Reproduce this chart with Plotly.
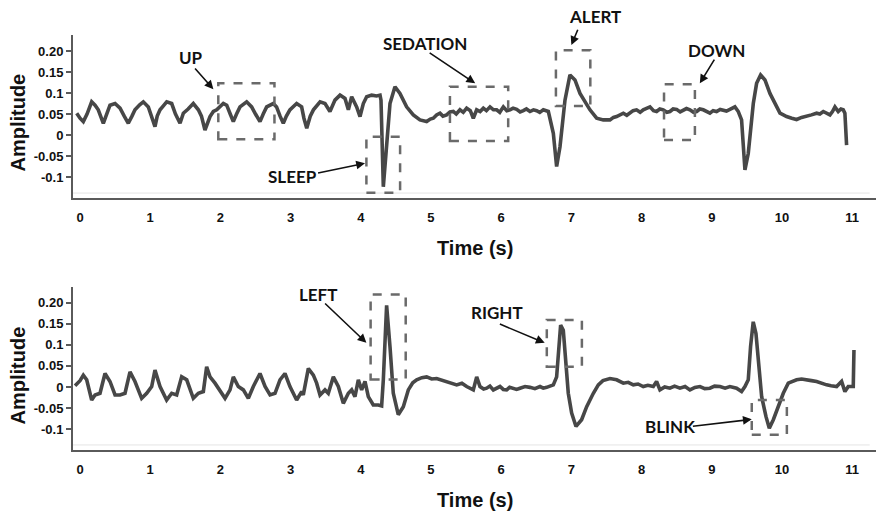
import plotly.graph_objects as go

# ---------------- data ----------------
t_top = [-0.047, 0.00, 0.047, 0.10, 0.166, 0.214, 0.26, 0.332, 0.38, 0.427, 0.499, 0.570, 0.63, 0.688,
         0.74, 0.783, 0.85, 0.902, 0.973, 1.02, 1.068, 1.10, 1.14, 1.19, 1.235, 1.306, 1.36, 1.425,
         1.472, 1.54, 1.614, 1.686, 1.73, 1.78, 1.852, 1.90, 1.947, 2.042, 2.09, 2.14, 2.184, 2.23,
         2.279, 2.374, 2.445, 2.50, 2.564, 2.61, 2.659, 2.754, 2.80, 2.85, 2.896, 2.94, 2.99, 3.086,
         3.157, 3.19, 3.23, 3.28, 3.325, 3.42, 3.49, 3.561, 3.632, 3.704, 3.775, 3.823, 3.87, 3.941,
         3.989, 4.036, 4.084, 4.155, 4.226, 4.274, 4.288, 4.321, 4.368, 4.416, 4.487, 4.558, 4.653,
         4.748, 4.843, 4.938, 4.99, 5.033, 5.08, 5.128, 5.17, 5.223, 5.27, 5.318, 5.36, 5.413, 5.46,
         5.508, 5.56, 5.603, 5.651, 5.70, 5.746, 5.79, 5.841, 5.89, 5.936, 5.98, 6.031, 6.08, 6.126,
         6.17, 6.221, 6.27, 6.316, 6.36, 6.41, 6.46, 6.505, 6.55, 6.6, 6.672, 6.743, 6.79, 6.838,
         6.909, 6.980, 7.051, 7.123, 7.194, 7.265, 7.36, 7.455, 7.55, 7.60, 7.645, 7.69, 7.74, 7.79,
         7.835, 7.88, 7.929, 7.98, 8.024, 8.07, 8.12, 8.17, 8.214, 8.26, 8.309, 8.36, 8.404, 8.45,
         8.5, 8.55, 8.594, 8.64, 8.689, 8.74, 8.784, 8.83, 8.879, 8.93, 8.974, 9.02, 9.069, 9.12,
         9.164, 9.21, 9.259, 9.33, 9.378, 9.425, 9.473, 9.52, 9.592, 9.639, 9.696, 9.758, 9.829,
         9.9, 9.972, 10.02, 10.066, 10.14, 10.209, 10.28, 10.351, 10.42, 10.494, 10.54, 10.589,
         10.64, 10.684, 10.72, 10.755, 10.802, 10.84, 10.873, 10.897, 10.921]
v_top = [0.052, 0.040, 0.032, 0.050, 0.079, 0.071, 0.060, 0.028, 0.050, 0.071, 0.075, 0.064, 0.045, 0.028,
         0.045, 0.060, 0.072, 0.079, 0.067, 0.040, 0.020, 0.045, 0.060, 0.070, 0.079, 0.075, 0.050, 0.028,
         0.052, 0.062, 0.075, 0.060, 0.045, 0.012, 0.044, 0.056, 0.060, 0.075, 0.071, 0.050, 0.032, 0.050,
         0.067, 0.079, 0.067, 0.050, 0.032, 0.050, 0.067, 0.075, 0.067, 0.045, 0.028, 0.045, 0.060, 0.075,
         0.067, 0.040, 0.016, 0.045, 0.060, 0.079, 0.075, 0.056, 0.083, 0.095, 0.087, 0.060, 0.091, 0.067,
         0.044, 0.075, 0.091, 0.095, 0.093, 0.095, 0.083, -0.123, -0.020, 0.075, 0.115, 0.099, 0.067,
         0.048, 0.036, 0.032, 0.038, 0.040, 0.048, 0.052, 0.045, 0.048, 0.055, 0.056, 0.050, 0.060, 0.054,
         0.064, 0.058, 0.040, 0.060, 0.056, 0.064, 0.058, 0.067, 0.060, 0.060, 0.054, 0.067, 0.058, 0.060,
         0.064, 0.061, 0.055, 0.058, 0.062, 0.056, 0.060, 0.058, 0.054, 0.060, 0.056, 0.004, -0.075, -0.028,
         0.083, 0.143, 0.131, 0.099, 0.079, 0.060, 0.040, 0.036, 0.036, 0.042, 0.044, 0.048, 0.052, 0.047,
         0.053, 0.058, 0.060, 0.054, 0.060, 0.064, 0.067, 0.058, 0.056, 0.062, 0.060, 0.054, 0.056, 0.062,
         0.061, 0.055, 0.058, 0.063, 0.060, 0.054, 0.056, 0.062, 0.060, 0.055, 0.052, 0.058, 0.056, 0.061,
         0.060, 0.057, 0.061, 0.067, 0.056, 0.036, -0.083, -0.044, 0.075, 0.123, 0.143, 0.131, 0.099,
         0.075, 0.052, 0.048, 0.044, 0.040, 0.037, 0.042, 0.044, 0.048, 0.052, 0.050, 0.056,
         0.052, 0.048, 0.056, 0.067, 0.056, 0.062, 0.060, 0.052, -0.024]

t_bot = [-0.071, 0.00, 0.047, 0.095, 0.166, 0.214, 0.285, 0.356, 0.427, 0.499, 0.570, 0.641, 0.712,
         0.783, 0.878, 0.95, 1.021, 1.068, 1.14, 1.234, 1.306, 1.377, 1.448, 1.52, 1.614, 1.686, 1.757,
         1.804, 1.852, 1.923, 2.066, 2.137, 2.184, 2.255, 2.327, 2.398, 2.469, 2.564, 2.636, 2.707,
         2.778, 2.849, 2.92, 2.991, 3.086, 3.158, 3.181, 3.253, 3.324, 3.371, 3.419, 3.49, 3.537, 3.609,
         3.68, 3.751, 3.823, 3.87, 3.917, 3.965, 4.012, 4.06, 4.107, 4.178, 4.249, 4.297, 4.321, 4.344,
         4.368, 4.416, 4.463, 4.534, 4.606, 4.677, 4.74, 4.796, 4.87, 4.938, 5.01, 5.081, 5.15, 5.223,
         5.29, 5.366, 5.44, 5.508, 5.603, 5.651, 5.698, 5.75, 5.793, 5.84, 5.888, 5.94, 5.983, 6.03,
         6.078, 6.12, 6.173, 6.22, 6.268, 6.34, 6.41, 6.48, 6.553, 6.60, 6.648, 6.743, 6.79, 6.814,
         6.847, 6.885, 6.923, 6.956, 7.004, 7.066, 7.146, 7.218, 7.313, 7.384, 7.45, 7.55, 7.645, 7.69,
         7.74, 7.81, 7.882, 7.95, 8.024, 8.09, 8.167, 8.214, 8.262, 8.33, 8.404, 8.47, 8.547, 8.62,
         8.689, 8.76, 8.832, 8.90, 8.974, 9.04, 9.117, 9.19, 9.259, 9.354, 9.425, 9.473, 9.52, 9.553,
         9.591, 9.63, 9.663, 9.711, 9.772, 9.82, 9.877, 9.948, 10.019, 10.09, 10.15, 10.209, 10.28,
         10.351, 10.42, 10.494, 10.56, 10.636, 10.70, 10.779, 10.85, 10.897, 10.945, 11.016, 11.026]
v_bot = [0.003, 0.015, 0.028, 0.017, -0.031, -0.019, -0.015, 0.032, 0.013, -0.019, -0.019, -0.015, 0.036,
         0.013, -0.027, -0.015, 0.001, 0.040, 0.001, -0.031, -0.015, -0.019, 0.024, 0.017, -0.027, -0.015,
         -0.011, 0.048, 0.024, 0.009, -0.027, -0.007, 0.024, 0.001, -0.007, -0.027, 0.001, 0.032, 0.001,
         -0.019, -0.015, 0.017, 0.032, 0.001, -0.031, -0.011, -0.019, 0.044, 0.028, 0.009, -0.019, -0.007,
         -0.015, 0.024, 0.001, -0.039, -0.015, -0.007, -0.023, 0.017, -0.007, 0.013, -0.023, -0.043,
         -0.043, -0.045, 0.017, 0.135, 0.194, 0.096, -0.015, -0.066, -0.047, -0.007, 0.010, 0.017, 0.022,
         0.024, 0.019, 0.020, 0.016, 0.013, 0.008, 0.005, 0.009, 0.001, -0.007, 0.024, 0.001, -0.005,
         -0.003, 0.002, -0.007, -0.002, 0.001, -0.006, -0.007, -0.001, -0.003, -0.006, -0.003, 0.001,
         -0.001, -0.004, 0.001, -0.003, -0.001, 0.005, 0.024, 0.080, 0.147, 0.135, 0.064, -0.015, -0.062,
         -0.094, -0.078, -0.047, -0.015, 0.005, 0.015, 0.020, 0.017, 0.014, 0.009, 0.011, 0.005, 0.007,
         0.001, 0.004, 0.001, 0.013, -0.007, 0.000, -0.003, 0.002, -0.003, 0.001, -0.007, -0.001, 0.001,
         -0.004, -0.003, 0.002, 0.001, -0.003, 0.001, -0.003, -0.011, 0.001, 0.017, 0.096, 0.155, 0.127,
         0.056, -0.023, -0.070, -0.098, -0.078, -0.047, -0.015, 0.009, 0.014, 0.017, 0.019, 0.018, 0.015,
         0.013, 0.009, 0.005, 0.003, 0.001, 0.013, -0.011, 0.001, 0.001, 0.088]

ytick_vals = [0.20, 0.15, 0.1, 0.05, 0, -0.05, -0.1]
ytick_text = ["0.20", "0.15", "0.1", "0.05", "0", "-0.05", "-0.1"]
xtick_vals = list(range(0, 12))

# annotation boxes: (panel, x0, x1, y0, y1)
boxes = [
    (1, 1.97, 2.77, -0.010, 0.123),   # UP
    (1, 4.08, 4.56, -0.137, -0.004),  # SLEEP
    (1, 5.27, 6.10, -0.014, 0.115),   # SEDATION
    (1, 6.78, 7.27, 0.069, 0.202),    # ALERT
    (1, 8.32, 8.76, -0.012, 0.121),   # DOWN
    (2, 4.14, 4.64, 0.018, 0.220),    # LEFT
    (2, 6.65, 7.15, 0.048, 0.159),    # RIGHT
    (2, 9.57, 10.07, -0.114, -0.031), # BLINK
]
# labels: (panel, text, x, y, tail_x, tail_y, head_x, head_y)
labels = [
    (1, "UP", 1.58, 0.185, 1.62, 0.162, 1.90, 0.109),
    (1, "SLEEP", 3.03, -0.099, 3.37, -0.091, 4.06, -0.067),
    (1, "SEDATION", 4.915, 0.218, 4.96, 0.198, 5.63, 0.123),
    (1, "ALERT", 7.336, 0.283, 7.10, 0.254, 7.00, 0.214),
    (1, "DOWN", 9.07, 0.202, 9.05, 0.183, 8.83, 0.123),
    (2, "LEFT", 3.39, 0.220, 3.47, 0.202, 4.08, 0.105),
    (2, "RIGHT", 5.94, 0.176, 5.96, 0.151, 6.62, 0.105),
    (2, "BLINK", 8.40, -0.094, 8.71, -0.094, 9.57, -0.077),
]

YR = [-0.15, 0.238]
DOM = {1: [0.607, 1.0], 2: [0.0, 0.393]}

LINE = "#474747"
AX = "#5a5a5a"

fig = go.Figure()
fig.add_trace(go.Scatter(x=t_top, y=v_top, mode="lines", xaxis="x", yaxis="y",
                         line=dict(color=LINE, width=3.6), showlegend=False, hoverinfo="skip"))
fig.add_trace(go.Scatter(x=t_bot, y=v_bot, mode="lines", xaxis="x2", yaxis="y2",
                         line=dict(color=LINE, width=3.6), showlegend=False, hoverinfo="skip"))

tickfont = dict(family="Liberation Sans, Arial, sans-serif", size=13, color="#111", weight="bold")
xcommon = dict(range=[-0.1, 11.34], tickvals=xtick_vals, showgrid=False, zeroline=False,
               showline=True, linecolor=AX, linewidth=2, ticks="outside", ticklen=6,
               tickcolor="rgba(0,0,0,0)", tickfont=tickfont, fixedrange=True)
ycommon = dict(range=YR, tickvals=ytick_vals, ticktext=ytick_text, showgrid=False,
               zeroline=False, showline=True, linecolor=AX, linewidth=2, ticks="outside",
               ticklen=5, tickwidth=1.5, tickcolor=AX, tickfont=tickfont, fixedrange=True)

shapes = []
for panel, x0, x1, y0, y1 in boxes:
    xr = "x" if panel == 1 else "x2"
    yr = "y" if panel == 1 else "y2"
    shapes.append(dict(type="rect", xref=xr, yref=yr, x0=x0, x1=x1, y0=y0, y1=y1,
                       line=dict(color="#6a6a6a", width=2.5, dash="dash"), layer="above"))
# faint baseline lines just above the x-axes
for yr, xr in (("y", "x"), ("y2", "x2")):
    shapes.append(dict(type="line", xref=xr, yref=yr, x0=-0.1, x1=11.25, y0=-0.138, y1=-0.138,
                       line=dict(color="#e4e4e4", width=1), layer="below"))

annotations = []
lblfont = dict(family="Lato, Open Sans, sans-serif", size=17, color="#111", weight="bold")
for panel, text, lx, ly, tx, ty, hx, hy in labels:
    xr = "x" if panel == 1 else "x2"
    yr = "y" if panel == 1 else "y2"
    if YR[0] <= ly <= YR[1]:
        annotations.append(dict(xref=xr, yref=yr, x=lx, y=ly, text=text, showarrow=False, font=lblfont))
    else:
        d0, d1 = DOM[panel]
        py = d0 + (ly - YR[0]) / (YR[1] - YR[0]) * (d1 - d0)
        annotations.append(dict(xref=xr, yref="paper", x=lx, y=py, text=text, showarrow=False,
                                font=lblfont, yanchor="middle"))
    annotations.append(dict(xref=xr, yref=yr, x=hx, y=hy, ax=tx, ay=ty, axref=xr, ayref=yr,
                            text="", showarrow=True, arrowhead=2, arrowsize=1.1, arrowwidth=1.6,
                            arrowcolor="#111", standoff=0, startstandoff=0))

titlefont = dict(family="Liberation Sans, Arial, sans-serif", size=20, color="#111", weight="bold")
# x-axis titles
annotations.append(dict(xref="paper", yref="paper", x=0.5, y=0.607, yshift=-50, text="Time (s)",
                        showarrow=False, font=titlefont, xanchor="center", yanchor="middle"))
annotations.append(dict(xref="paper", yref="paper", x=0.5, y=0.0, yshift=-50, text="Time (s)",
                        showarrow=False, font=titlefont, xanchor="center", yanchor="middle"))
# y-axis titles
annotations.append(dict(xref="paper", yref="paper", x=0, xshift=-55, y=0.8035, yshift=-6,
                        text="Amplitude", textangle=-90, showarrow=False, font=titlefont,
                        xanchor="center", yanchor="middle"))
annotations.append(dict(xref="paper", yref="paper", x=0, xshift=-55, y=0.1965, yshift=-7,
                        text="Amplitude", textangle=-90, showarrow=False, font=titlefont,
                        xanchor="center", yanchor="middle"))

fig.update_layout(
    width=876, height=514,
    margin=dict(l=73, r=0, t=35, b=64),
    paper_bgcolor="white", plot_bgcolor="white",
    xaxis=dict(domain=[0, 1], anchor="y", **xcommon),
    yaxis=dict(domain=DOM[1], anchor="x", **ycommon),
    xaxis2=dict(domain=[0, 1], anchor="y2", **xcommon),
    yaxis2=dict(domain=DOM[2], anchor="x2", **ycommon),
    shapes=shapes, annotations=annotations,
)

fig.write_html("out.html", config={"displayModeBar": False})
